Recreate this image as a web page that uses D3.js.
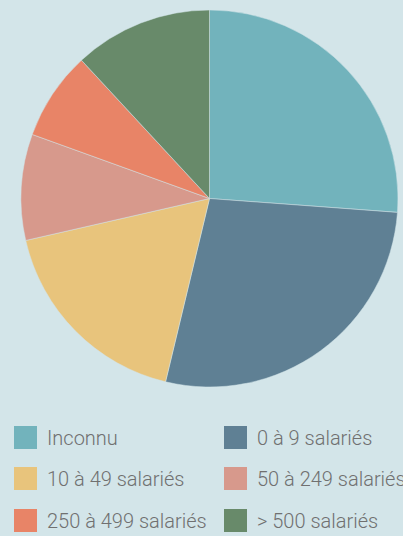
<!DOCTYPE html>
<html>
<head>
<meta charset="utf-8">
<script src="https://cdn.jsdelivr.net/npm/d3@7"></script>
<style>
  html, body { margin: 0; padding: 0; background: #d3e5e9; }
  #chart { width: 403px; height: 536px; }
  svg { display: block; }
</style>
</head>
<body>
<div id="chart"></div>
<script>
// Chart data
const categories = ["Inconnu", "0 à 9 salariés", "10 à 49 salariés", "50 à 249 salariés", "250 à 499 salariés", "> 500 salariés"];
const values = [26.2, 27.6, 17.7, 9.1, 7.6, 11.9];
const colors = ["#72b3bc", "#5f8094", "#e8c47c", "#d7998c", "#e88467", "#688a6a"];

const width = 403, height = 536;
const cx = 209.5, cy = 198.5, radius = 188.5;

const svg = d3.select("#chart")
    .append("svg")
    .attr("width", width)
    .attr("height", height);

const data = categories.map((c, i) => ({ label: c, value: values[i], color: colors[i] }));

const pie = d3.pie()
    .value(d => d.value)
    .sort(null);

const arc = d3.arc()
    .innerRadius(0)
    .outerRadius(radius);

const g = svg.append("g")
    .attr("transform", `translate(${cx},${cy})`);

g.selectAll("path")
    .data(pie(data))
    .enter()
    .append("path")
    .attr("d", arc)
    .attr("fill", d => d.data.color)
    .attr("stroke", "#d3e5e9")
    .attr("stroke-width", 0.5);

// Legend, two columns
const legend = svg.append("g");
const colX = [14, 224];
const rowY = [426, 467, 509];

const items = legend.selectAll("g.item")
    .data(data)
    .enter()
    .append("g")
    .attr("class", "item")
    .attr("transform", (d, i) => `translate(${colX[i % 2]},${rowY[Math.floor(i / 2)]})`);

items.append("rect")
    .attr("width", 23)
    .attr("height", 23)
    .attr("fill", d => d.color);

items.append("text")
    .attr("x", 33)
    .attr("y", 19)
    .attr("fill", "#707070")
    .style("font-family", "Roboto, sans-serif")
    .style("font-weight", "300")
    .style("font-size", "20px")
    .text(d => d.label);
</script>
</body>
</html>
